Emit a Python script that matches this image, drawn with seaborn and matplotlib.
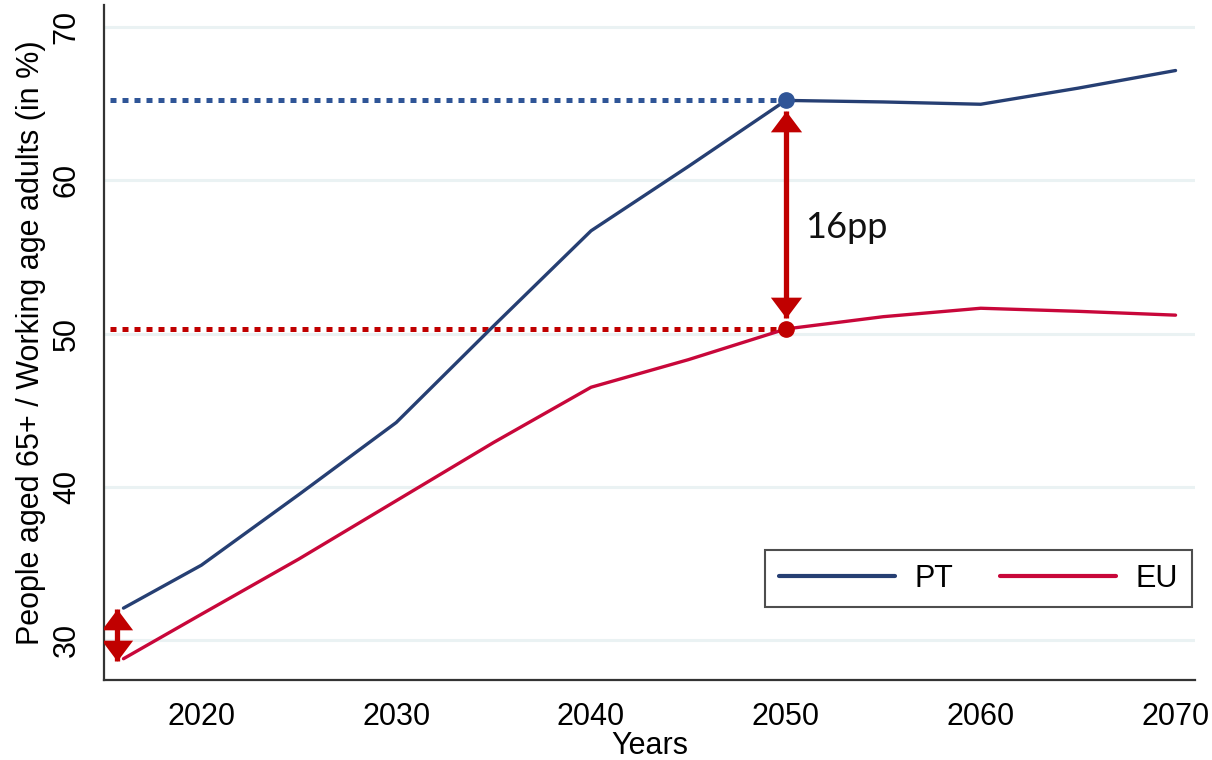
import numpy as np
import pandas as pd
import matplotlib
matplotlib.use("Agg")
import matplotlib.pyplot as plt
from matplotlib.path import Path
import seaborn as sns

# valeurs (ratio 65+ / age actif, en %)
years = [2016, 2020, 2025, 2030, 2035, 2040, 2045, 2050, 2055, 2060, 2065, 2070]
pt = [32.1, 34.9, 39.5, 44.2, 50.5, 56.7, 60.9, 65.2, 65.1, 64.95, 66.0, 67.15]
eu = [28.8, 31.7, 35.3, 39.1, 42.9, 46.5, 48.3, 50.3, 51.1, 51.65, 51.45, 51.2]
series = ["PT", "EU"]
gap_year = 2050
gap_pt = 65.2
gap_eu = 50.3
gap_label = "16pp"
x_ticks = [2020, 2030, 2040, 2050, 2060, 2070]
y_ticks = [30, 40, 50, 60, 70]

NAVY = "#263f73"
CRIMSON = "#c8073a"
BLUE_DOT = "#2f5597"
RED = "#c00000"

sns.set_theme(style="white")
plt.rcParams["font.family"] = ["Liberation Sans", "DejaVu Sans"]
plt.rcParams["text.color"] = "black"
plt.rcParams["axes.labelcolor"] = "black"
plt.rcParams["xtick.color"] = "black"
plt.rcParams["ytick.color"] = "black"

df = pd.DataFrame({"year": years * 2,
                   "value": pt + eu,
                   "zone": ["PT"] * len(years) + ["EU"] * len(years)})

fig = plt.figure(figsize=(12.12, 7.6), dpi=100)
ax = fig.add_axes([0.0858, 0.105, 0.9002, 0.888])

for t in y_ticks:
    ax.axhline(t, color="#eaf2f3", lw=2.2, zorder=0)

sns.lineplot(data=df, x="year", y="value", hue="zone", hue_order=series,
             palette={"PT": NAVY, "EU": CRIMSON}, lw=2.4, ax=ax, zorder=3)

# lignes pointillees horizontales jusqu'a 2050
ax.plot([2015.3, gap_year], [gap_pt, gap_pt], color=BLUE_DOT, lw=3.6,
        ls=(0, (1.2, 1.2)), dash_capstyle="butt", zorder=2)
ax.plot([2015.3, gap_year], [gap_eu, gap_eu], color=RED, lw=3.6,
        ls=(0, (1.2, 1.2)), dash_capstyle="butt", zorder=2)
ax.plot([gap_year], [gap_pt], "o", color=BLUE_DOT, ms=11, zorder=5)
ax.plot([gap_year], [gap_eu], "o", color=RED, ms=11, zorder=5)

# pointes de fleche : triangles dont la pointe est a l'origine
HEAD_UP = Path([(0, 0), (-0.75, -1), (0.75, -1), (0, 0)],
               [Path.MOVETO, Path.LINETO, Path.LINETO, Path.CLOSEPOLY])
HEAD_DOWN = Path([(0, 0), (-0.75, 1), (0.75, 1), (0, 0)],
                 [Path.MOVETO, Path.LINETO, Path.LINETO, Path.CLOSEPOLY])


def double_arrow(x, y_low, y_high):
    ax.plot([x, x], [y_low, y_high], color=RED, lw=3.8,
            solid_capstyle="butt", zorder=4)
    ax.plot([x], [y_high], marker=HEAD_UP, ms=30, color=RED, mec=RED, mew=0, zorder=4)
    ax.plot([x], [y_low], marker=HEAD_DOWN, ms=30, color=RED, mec=RED, mew=0, zorder=4)


double_arrow(gap_year, gap_eu + 0.7, gap_pt - 0.7)
double_arrow(years[0] - 0.35, eu[0] - 0.15, pt[0] - 0.05)
ax.text(gap_year + 1.0, 56.9, gap_label, fontsize=26, va="center", ha="left",
        family=["Lato", "DejaVu Sans"], color="#111111")

ax.set_xlim(2015, 2071)
ax.set_ylim(27.4, 71.4)
ax.set_xticks(x_ticks)
ax.set_yticks(y_ticks)
ax.tick_params(axis="both", direction="out", length=8, width=1.4,
               color="#333333", labelsize=22, pad=8)
plt.setp(ax.get_yticklabels(), rotation=90, va="center")
ax.set_xlabel("Years", fontsize=22, labelpad=-1)
ax.set_ylabel("People aged 65+ / Working age adults (in %)", fontsize=22, labelpad=4)

for s in ["top", "right"]:
    ax.spines[s].set_visible(False)
for s in ["left", "bottom"]:
    ax.spines[s].set_color("#333333")
    ax.spines[s].set_linewidth(1.6)

handles, labels = ax.get_legend_handles_labels()
leg = ax.legend(handles, labels, loc="lower right", bbox_to_anchor=(0.997, 0.108),
                borderaxespad=0, ncol=2, fontsize=22, frameon=True, fancybox=False,
                handlelength=3.8, columnspacing=1.5, handletextpad=0.65,
                borderpad=0.45)
leg.get_frame().set_edgecolor("#222222")
leg.get_frame().set_linewidth(1.5)
for h in leg.get_lines():
    h.set_linewidth(3)

fig.savefig("out.png", dpi=100)
